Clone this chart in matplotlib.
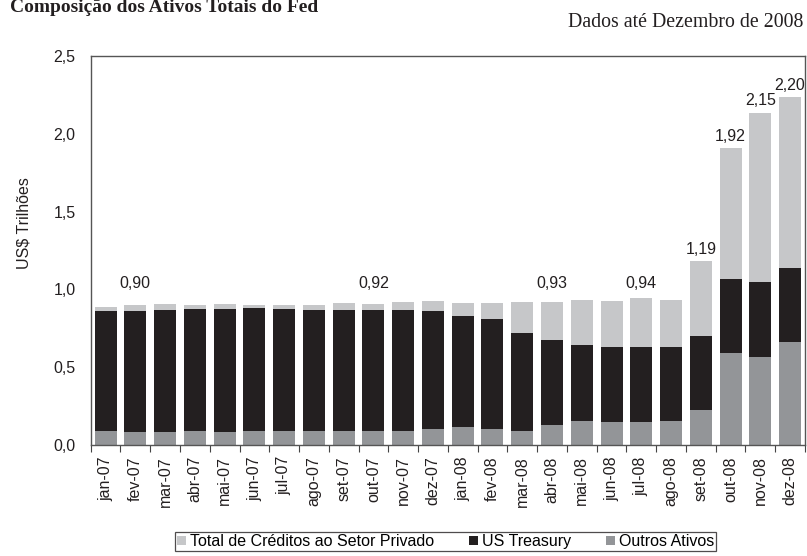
import matplotlib
matplotlib.use("Agg")
import matplotlib.pyplot as plt
import numpy as np
from matplotlib.patches import Patch

meses = ["jan-07", "fev-07", "mar-07", "abr-07", "mai-07", "jun-07",
         "jul-07", "ago-07", "set-07", "out-07", "nov-07", "dez-07",
         "jan-08", "fev-08", "mar-08", "abr-08", "mai-08", "jun-08",
         "jul-08", "ago-08", "set-08", "out-08", "nov-08", "dez-08"]

# US$ trilhoes
outros = [0.090, 0.084, 0.084, 0.090, 0.084, 0.090, 0.090, 0.090, 0.090, 0.090, 0.090, 0.103,
          0.116, 0.103, 0.090, 0.129, 0.154, 0.148, 0.148, 0.154, 0.225, 0.591, 0.566, 0.664]
treasury = [0.771, 0.777, 0.784, 0.784, 0.790, 0.790, 0.784, 0.778, 0.778, 0.778, 0.778, 0.758,
            0.713, 0.707, 0.630, 0.546, 0.489, 0.482, 0.482, 0.476, 0.475, 0.476, 0.483, 0.474]
credito = [0.028, 0.039, 0.038, 0.026, 0.032, 0.020, 0.026, 0.032, 0.045, 0.038, 0.051, 0.064,
           0.084, 0.103, 0.199, 0.244, 0.289, 0.295, 0.315, 0.302, 0.483, 0.842, 1.087, 1.100]

# rotulos de total
rot_baixo_idx = [1, 9, 15, 18]
rot_baixo_txt = ["0,90", "0,92", "0,93", "0,94"]
rot_alto_idx = [20, 21, 22, 23]
rot_alto_txt = ["1,19", "1,92", "2,15", "2,20"]

c_credito = "#c6c7c9"
c_treasury = "#231f20"
c_outros = "#939598"
fonte = "Liberation Sans"

plt.rcParams["font.family"] = [fonte, "DejaVu Sans"]

fig = plt.figure(figsize=(8.07, 5.56), dpi=100)
ax = fig.add_axes([0.1124, 0.1996, 0.8851, 0.6997])

x = np.arange(len(meses))
outros = np.array(outros)
treasury = np.array(treasury)
credito = np.array(credito)
w = 0.74
ax.bar(x, outros, w, color=c_outros, linewidth=0)
ax.bar(x, treasury, w, bottom=outros, color=c_treasury, linewidth=0)
ax.bar(x, credito, w, bottom=outros + treasury, color=c_credito, linewidth=0)
total = outros + treasury + credito

for i, t in zip(rot_baixo_idx, rot_baixo_txt):
    ax.text(i, 1.04, t, ha="center", va="center", fontsize=11.5, color="#231f20")
for i, t in zip(rot_alto_idx, rot_alto_txt):
    ax.annotate(t, (i, total[i]), xytext=(0, 3), textcoords="offset points",
                ha="center", va="bottom", fontsize=11.5, color="#231f20",
                annotation_clip=False)

ax.set_xlim(-0.5, len(meses) - 0.5)
ax.set_ylim(0, 2.5)
ax.set_yticks(np.arange(0, 2.51, 0.5))
ax.set_yticklabels([f"{v:.1f}".replace(".", ",") for v in np.arange(0, 2.51, 0.5)])
ax.tick_params(axis="y", length=0, pad=11, labelsize=11.5, labelcolor="#231f20")
ax.set_xticks(x)
ax.set_xticklabels(meses, rotation=90)
ax.tick_params(axis="x", which="major", length=0, pad=8, labelsize=11.5,
               labelcolor="#231f20")
ax.set_xticks(np.arange(-0.5, len(meses), 1), minor=True)
ax.tick_params(axis="x", which="minor", length=5, width=0.8, color="#444444",
               direction="out")
for s in ax.spines.values():
    s.set_color("#555555")
    s.set_linewidth(1.0)

fig.text(0.030, 0.5995, "US$ Trilhões", rotation=90, ha="center", va="center",
         fontsize=11.5, color="#231f20")

fig.text(0.013, 0.979, "Composição dos Ativos Totais do Fed", ha="left",
         va="baseline", fontsize=14, fontweight="bold",
         family="Liberation Serif", color="#231f20")
fig.text(0.995, 0.960, "Dados até Dezembro de 2008", ha="right", va="center",
         fontsize=14.3, family="Liberation Serif", color="#231f20")

handles = [Patch(facecolor=c_credito, label="Total de Créditos ao Setor Privado"),
           Patch(facecolor=c_treasury, label="US Treasury"),
           Patch(facecolor=c_outros, label="Outros Ativos")]
leg = fig.legend(handles=handles, loc="center", bbox_to_anchor=(0.552, 0.026),
                 ncol=3, fontsize=11.5, frameon=True, fancybox=False,
                 handlelength=0.55, handleheight=0.55, handletextpad=0.25,
                 columnspacing=2.2, borderpad=0.15, borderaxespad=0)
leg.get_frame().set_edgecolor("#231f20")
leg.get_frame().set_linewidth(0.9)

fig.savefig("out.png", dpi=100)
